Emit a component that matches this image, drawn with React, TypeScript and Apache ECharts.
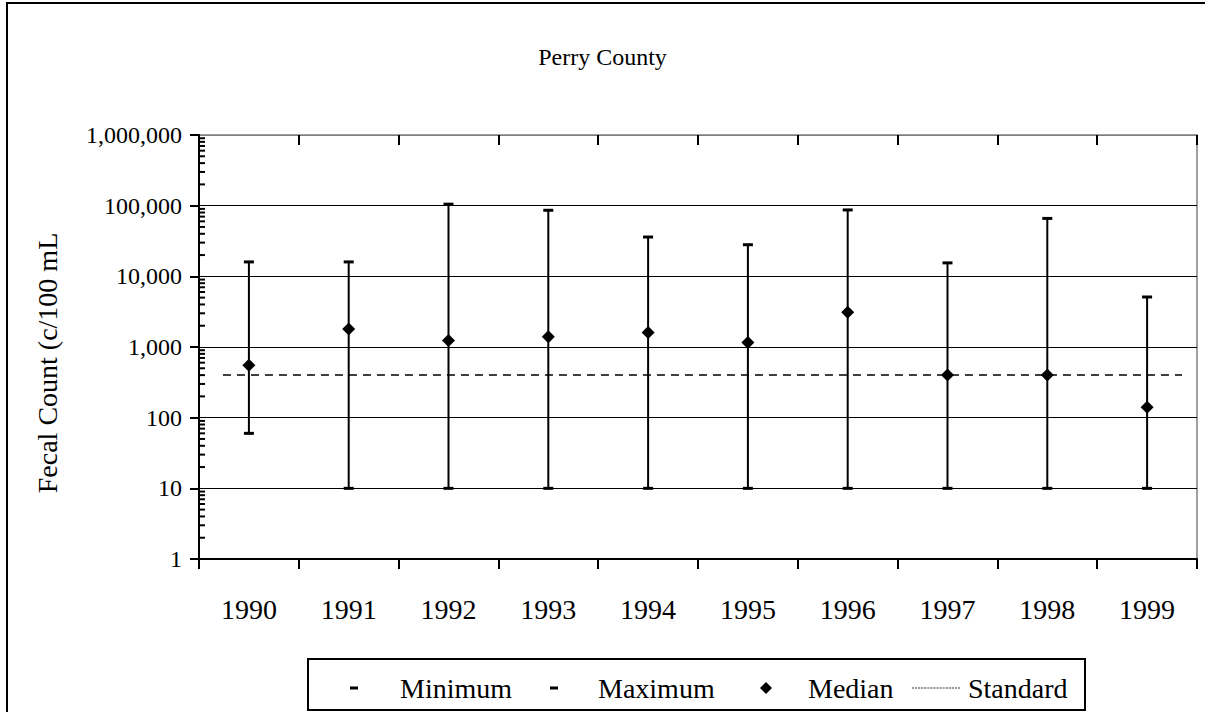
import React, { useEffect, useRef } from "react";
import * as echarts from "echarts";

const categories = ["1990", "1991", "1992", "1993", "1994", "1995", "1996", "1997", "1998", "1999"];
const minimumValues = [60, 10, 10, 10, 10, 10, 10, 10, 10, 10];
const maximumValues = [16000, 16000, 105000, 86000, 36000, 28000, 87000, 15500, 66000, 5100];
const medianValues = [550, 1800, 1240, 1400, 1600, 1160, 3100, 400, 400, 140];
const standardValue = 400;
const standardSpan = [-0.26, 9.35];
const minorTickMultipliers = [2, 3, 4, 5, 6, 7, 8, 9];
const minorTickDecades = [1, 10, 100, 1000, 10000, 100000];

const FONT = "'Liberation Serif', 'Times New Roman', serif";

function dottedLinePath(len: number, dash: number, gap: number): string {
  let d = "path://";
  for (let x = 0; x < len; x += dash + gap) {
    d += `M${x},0h${dash}v1h${-dash}z`;
  }
  return d;
}

export default function App() {
  const ref = useRef<HTMLDivElement>(null);

  useEffect(() => {
    if (!ref.current) return;
    const chart = echarts.init(ref.current, null, { renderer: "svg" });

    const minorTicks: number[][] = [];
    minorTickDecades.forEach((d) => minorTickMultipliers.forEach((m) => minorTicks.push([0, m * d])));

    const legendText = (pad: number) => ({
      fontFamily: FONT,
      fontSize: 28,
      color: "#000",
      lineHeight: 30,
      padding: [0, 0, 0, pad],
    });

    const option: any = {
      animation: false,
      backgroundColor: "#fff",
      title: {
        text: "Perry County",
        left: "center",
        top: 45,
        padding: 0,
        textStyle: { fontFamily: FONT, fontSize: 24, fontWeight: "normal", color: "#000" },
      },
      grid: {
        left: 199,
        top: 135,
        width: 998,
        height: 424,
        show: true,
        borderColor: "#808080",
        borderWidth: 1.5,
        backgroundColor: "transparent",
      },
      legend: [
        {
          data: [{ name: "Minimum", itemStyle: { color: "#000", opacity: 1 } }],
          left: 350,
          top: 673,
          padding: 0,
          icon: "rect",
          itemWidth: 8,
          itemHeight: 3,
          selectedMode: false,
          textStyle: legendText(37),
        },
        {
          data: [{ name: "Maximum", itemStyle: { color: "#000", opacity: 1 } }],
          left: 550,
          top: 673,
          padding: 0,
          icon: "rect",
          itemWidth: 8,
          itemHeight: 3,
          selectedMode: false,
          textStyle: legendText(35),
        },
        {
          data: [{ name: "Median", itemStyle: { color: "#000", opacity: 1 } }],
          left: 760,
          top: 673,
          padding: 0,
          icon: "diamond",
          itemWidth: 12,
          itemHeight: 12,
          selectedMode: false,
          textStyle: legendText(31),
        },
        {
          data: [
            {
              name: "Standard",
              icon: dottedLinePath(48, 2, 1),
              itemStyle: { color: "#333", opacity: 1 },
            },
          ],
          left: 912,
          top: 673,
          padding: 0,
          itemWidth: 48,
          itemHeight: 12,
          selectedMode: false,
          textStyle: legendText(3),
        },
      ],
      xAxis: [
        {
          type: "category",
          data: categories,
          boundaryGap: true,
          axisLine: { show: true, onZero: false, lineStyle: { color: "#000", width: 2 } },
          axisTick: { show: true, length: 10, alignWithLabel: false, lineStyle: { color: "#000", width: 2 } },
          axisLabel: { fontFamily: FONT, fontSize: 28, color: "#000", margin: 36 },
          splitLine: { show: false },
        },
        {
          type: "category",
          data: categories,
          boundaryGap: true,
          axisLine: { show: false, onZero: false },
          axisTick: { show: true, inside: true, length: 10, lineStyle: { color: "#000", width: 2 } },
          axisLabel: { show: false },
          splitLine: { show: false },
        },
        {
          type: "value",
          min: -0.5,
          max: 9.5,
          show: false,
          axisLine: { onZero: false },
        },
      ],
      yAxis: {
        type: "log",
        logBase: 10,
        min: 1,
        max: 1000000,
        name: "Fecal Count (c/100 mL",
        nameLocation: "middle",
        nameGap: 138,
        nameTextStyle: { fontFamily: FONT, fontSize: 28, color: "#000", padding: [0, 32, 0, 0] },
        axisLine: { show: true, onZero: false, lineStyle: { color: "#000", width: 2 } },
        axisTick: { show: true, length: 9, lineStyle: { color: "#000", width: 2 } },
        axisLabel: {
          fontFamily: FONT,
          fontSize: 24,
          color: "#000",
          margin: 17,
          formatter: (v: number) => Math.round(v).toLocaleString("en-US"),
        },
        splitLine: {
          show: true,
          lineStyle: { color: ["#000", "#000", "#000", "#000", "#000", "#000", "#808080"], width: 1 },
        },
      },
      series: [
        {
          name: "Range",
          type: "custom",
          xAxisIndex: 0,
          data: categories.map((_, i) => [i, minimumValues[i], maximumValues[i]]),
          encode: { x: 0, y: [1, 2] },
          renderItem: (params: any, api: any) => {
            const lo = api.coord([api.value(0), api.value(1)]);
            const hi = api.coord([api.value(0), api.value(2)]);
            return {
              type: "line",
              shape: { x1: lo[0], y1: lo[1], x2: hi[0], y2: hi[1] },
              style: { stroke: "#000", lineWidth: 2 },
            };
          },
          z: 3,
        },
        {
          name: "Minimum",
          type: "scatter",
          data: minimumValues,
          symbol: "rect",
          symbolSize: [10, 3],
          itemStyle: { color: "#000", opacity: 1 },
          z: 4,
        },
        {
          name: "Maximum",
          type: "scatter",
          data: maximumValues,
          symbol: "rect",
          symbolSize: [10, 3],
          itemStyle: { color: "#000", opacity: 1 },
          z: 4,
        },
        {
          name: "Median",
          type: "scatter",
          data: medianValues,
          symbol: "diamond",
          symbolSize: 13,
          itemStyle: { color: "#000", opacity: 1 },
          z: 5,
        },
        {
          name: "Standard",
          type: "line",
          xAxisIndex: 2,
          data: [
            [standardSpan[0], standardValue],
            [standardSpan[1], standardValue],
          ],
          symbol: "none",
          itemStyle: { color: "#000" },
          lineStyle: { color: "#000", width: 1.5, type: [8, 6] },
          z: 4,
        },
        {
          name: "minorTicks",
          type: "custom",
          xAxisIndex: 0,
          data: minorTicks,
          encode: { x: 0, y: 1 },
          silent: true,
          renderItem: (params: any, api: any) => {
            const y = api.coord([0, api.value(1)])[1];
            const x = params.coordSys.x;
            return {
              type: "line",
              shape: { x1: x, y1: y, x2: x + 6, y2: y },
              style: { stroke: "#000", lineWidth: 2 },
            };
          },
          z: 6,
        },
      ],
      graphic: [
        {
          type: "rect",
          shape: { x: 7, y: 3, width: 1300, height: 800 },
          style: { fill: "none", stroke: "#000", lineWidth: 2 },
          silent: true,
          z: 10,
        },
        {
          type: "rect",
          shape: { x: 308, y: 659, width: 777, height: 51 },
          style: { fill: "none", stroke: "#000", lineWidth: 2 },
          silent: true,
          z: 10,
        },
      ],
    };

    chart.setOption(option);
    return () => chart.dispose();
  }, []);

  return (
    <div
      ref={ref}
      style={{ position: "fixed", left: 0, top: 0, width: 1205, height: 712, background: "#fff" }}
    />
  );
}
